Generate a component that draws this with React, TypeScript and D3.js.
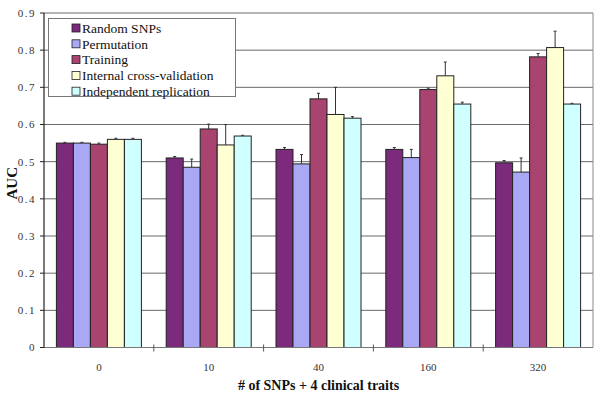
import React from "react";
import * as d3 from "d3";

const categories = ["0", "10", "40", "160", "320"];
const seriesNames = [
  "Random SNPs",
  "Permutation",
  "Training",
  "Internal cross-validation",
  "Independent replication",
];
const seriesColors = ["#7B2A7C", "#A8A8F4", "#A8446F", "#FFFFD4", "#CFFFFF"];

// values per series, per category
const randomSNPs = [0.55, 0.51, 0.533, 0.533, 0.497];
const permutation = [0.55, 0.485, 0.494, 0.511, 0.472];
const training = [0.547, 0.588, 0.669, 0.694, 0.782];
const internalCV = [0.56, 0.545, 0.627, 0.731, 0.807];
const independent = [0.56, 0.569, 0.617, 0.655, 0.655];

const randomErr = [0.002, 0.004, 0.005, 0.005, 0.006];
const permErr = [0.002, 0.022, 0.025, 0.022, 0.038];
const trainErr = [0.003, 0.013, 0.015, 0.004, 0.009];
const cvErr = [0.003, 0.055, 0.073, 0.037, 0.044];
const indepErr = [0.003, 0.002, 0.004, 0.005, 0.002];

const yTicks = [0, 0.1, 0.2, 0.3, 0.4, 0.5, 0.6, 0.7, 0.8, 0.9];

const seriesValues = [randomSNPs, permutation, training, internalCV, independent];
const seriesErrors = [randomErr, permErr, trainErr, cvErr, indepErr];

export default function App() {
  const left = 44;
  const right = 593;
  const top = 13;
  const bottom = 347.5;

  const x = d3.scaleBand<string>().domain(categories).range([left, right]).paddingInner(0).paddingOuter(0);
  const y = d3.scaleLinear().domain([0, 0.9]).range([bottom, top]);
  const barW = 17;
  const groupW = barW * seriesNames.length;
  const fmt = d3.format(".1f");
  const serif = "'Liberation Serif', 'Times New Roman', serif";

  return (
    <svg
      width={600}
      height={410}
      style={{ position: "absolute", left: 0, top: 0, background: "#fff" }}
      fontFamily={serif}
    >
      <rect x={0} y={0} width={600} height={410} fill="#fff" />
      {/* gridlines */}
      {yTicks.map((t) => (
        <line key={"g" + t} x1={left} x2={right} y1={y(t)} y2={y(t)} stroke="#6a6a6a" strokeWidth={1} />
      ))}
      {/* right border */}
      <line x1={right} x2={right} y1={top} y2={bottom} stroke="#8a8a8a" strokeWidth={1} />
      {/* bars */}
      {categories.map((c, ci) => {
        const x0 = (x(c) as number) + (x.bandwidth() - groupW) / 2;
        return (
          <g key={c}>
            {seriesValues.map((vals, si) => {
              const v = vals[ci];
              const e = seriesErrors[si][ci];
              const bx = x0 + si * barW;
              const cx = bx + barW / 2;
              return (
                <g key={si}>
                  <rect
                    x={bx}
                    y={y(v)}
                    width={barW}
                    height={bottom - y(v)}
                    fill={seriesColors[si]}
                    stroke="#222"
                    strokeWidth={1}
                  />
                  <line x1={cx} x2={cx} y1={y(v)} y2={y(v + e)} stroke="#333" strokeWidth={1} />
                  <line x1={cx - 1.5} x2={cx + 1.5} y1={y(v + e)} y2={y(v + e)} stroke="#333" strokeWidth={1} />
                </g>
              );
            })}
          </g>
        );
      })}
      {/* x axis */}
      <line x1={left} x2={right} y1={bottom} y2={bottom} stroke="#777" strokeWidth={1} />
      {categories.map((c, ci) =>
        ci > 0 ? (
          <line
            key={"xt" + c}
            x1={x(c) as number}
            x2={x(c) as number}
            y1={bottom - 3}
            y2={bottom + 4}
            stroke="#555"
            strokeWidth={1}
          />
        ) : null
      )}
      {categories.map((c) => (
        <text
          key={"xl" + c}
          x={(x(c) as number) + x.bandwidth() / 2}
          y={bottom + 23}
          textAnchor="middle"
          fontSize={11}
          fill="#333"
        >
          {c}
        </text>
      ))}
      {/* y axis */}
      <line x1={left} x2={left} y1={top} y2={bottom} stroke="#222" strokeWidth={1.2} />
      {yTicks.map((t) => (
        <g key={"yt" + t}>
          <line x1={left - 4} x2={left} y1={y(t)} y2={y(t)} stroke="#222" strokeWidth={1} />
          <text
            x={left - 8}
            y={y(t)}
            dy="0.35em"
            textAnchor="end"
            fontSize={11}
            letterSpacing={1.5}
            fill="#333"
          >
            {t === 0 ? "0" : fmt(t)}
          </text>
        </g>
      ))}
      {/* axis titles */}
      <text
        transform={`translate(12,${(top + bottom) / 2 + 3}) rotate(-90)`}
        textAnchor="middle"
        dy="0.35em"
        fontSize={15}
        fontWeight="bold"
        fill="#111"
      >
        AUC
      </text>
      <text x={(left + right) / 2} y={390} textAnchor="middle" fontSize={14} fontWeight="bold" fill="#111">
        # of SNPs + 4 clinical traits
      </text>
      {/* legend */}
      <g>
        <rect x={48.5} y={18.5} width={187} height={78} fill="#fff" stroke="#777" strokeWidth={1} />
        {seriesNames.map((n, i) => (
          <g key={n} transform={`translate(72,${28 + i * 15.8})`}>
            <rect x={0} y={-4} width={8} height={8} fill={seriesColors[i]} stroke="#222" strokeWidth={0.8} />
            <text x={10} y={0} dy="0.35em" fontSize={13.5} fill="#111">
              {n}
            </text>
          </g>
        ))}
      </g>
    </svg>
  );
}
